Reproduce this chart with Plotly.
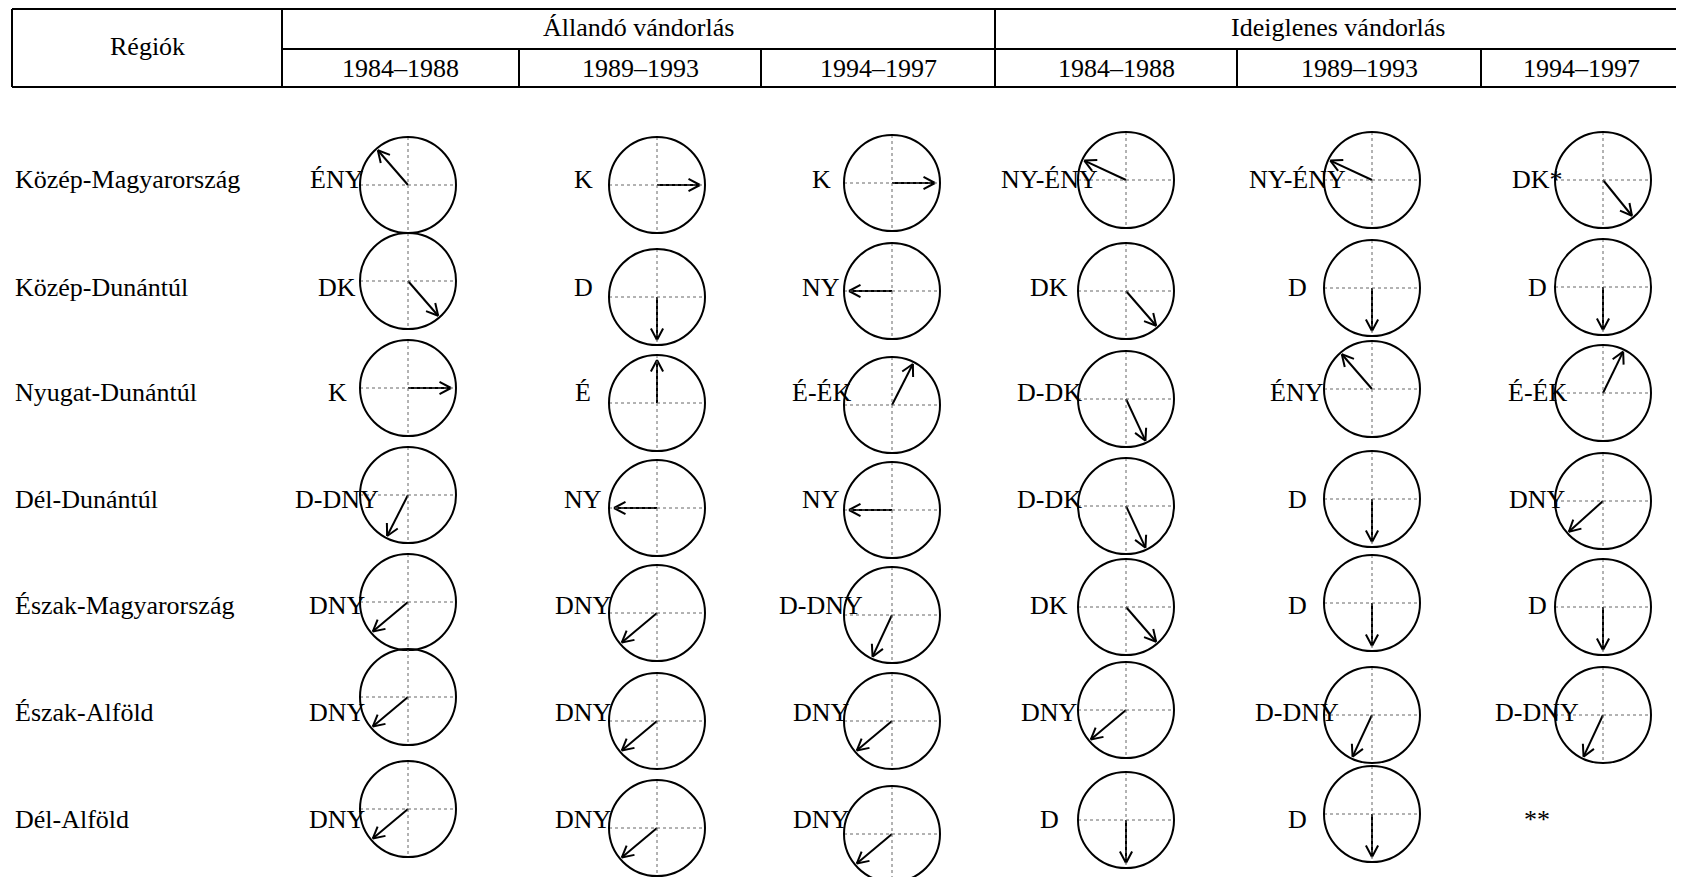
import math
import plotly.graph_objects as go

# table contents
REGIONS = ["Közép-Magyarország", "Közép-Dunántúl", "Nyugat-Dunántúl", "Dél-Dunántúl",
           "Észak-Magyarország", "Észak-Alföld", "Dél-Alföld"]
GROUPS = ["Állandó vándorlás", "Ideiglenes vándorlás"]
PERIODS = ["1984–1988", "1989–1993", "1994–1997"]
HEADER_REGION = "Régiók"

# direction label and arrow angle (degrees, counter-clockwise from east) per region
ALLANDO_8488_DIR = ["ÉNY", "DK", "K", "D-DNY", "DNY", "DNY", "DNY"]
ALLANDO_8488_DEG = [131, -49, 0, 243, 220, 220, 220]
ALLANDO_8993_DIR = ["K", "D", "É", "NY", "DNY", "DNY", "DNY"]
ALLANDO_8993_DEG = [0, 270, 90, 180, 220, 220, 220]
ALLANDO_9497_DIR = ["K", "NY", "É-ÉK", "NY", "D-DNY", "DNY", "DNY"]
ALLANDO_9497_DEG = [0, 180, 63, 180, 245, 220, 220]
IDEIGL_8488_DIR = ["NY-ÉNY", "DK", "D-DK", "D-DK", "DK", "DNY", "D"]
IDEIGL_8488_DEG = [155, -49, -65, -65, -49, 220, 270]
IDEIGL_8993_DIR = ["NY-ÉNY", "D", "ÉNY", "D", "D", "D-DNY", "D"]
IDEIGL_8993_DEG = [155, 270, 131, 270, 270, 245, 270]
IDEIGL_9497_DIR = ["DK*", "D", "É-ÉK", "DNY", "D", "D-DNY", "**"]
IDEIGL_9497_DEG = [-51, 270, 64, 222, 270, 245, None]

COLUMNS = [
    (ALLANDO_8488_DIR, ALLANDO_8488_DEG), (ALLANDO_8993_DIR, ALLANDO_8993_DEG),
    (ALLANDO_9497_DIR, ALLANDO_9497_DEG), (IDEIGL_8488_DIR, IDEIGL_8488_DEG),
    (IDEIGL_8993_DIR, IDEIGL_8993_DEG), (IDEIGL_9497_DIR, IDEIGL_9497_DEG),
]

# page layout (pixels); the page body adds an 8px margin, so axes start at 8
W, H = 1684, 877
OFF = 8
FONT = dict(family="Liberation Serif, Times New Roman, serif", size=26, color="black")
COL_X = [408, 657, 892, 1126, 1372, 1603]
LABEL_X = [337, 583, 821, 1049, 1297, 1537]
ROW_BASE = [188, 296, 401, 508, 614, 721, 828]
CIRCLE_Y = [
    [185, 281, 388, 495, 602, 697, 809],
    [185, 297, 403, 508, 613, 721, 828],
    [183, 291, 405, 510, 615, 721, 834],
    [180, 291, 399, 506, 607, 710, 820],
    [180, 288, 389, 499, 603, 715, 814],
    [180, 287, 393, 501, 607, 715, 815],
]
R = 48
HEAD_LEN, HEAD_ANG = 13, 28
V_LINES = [12, 282, 519, 761, 995, 1237, 1481, 1681]
TOP, MID, BOT = 9, 49, 87
DY = 0.3375 * FONT["size"]  # baseline -> middle of text box

shapes = []
annotations = []

def line(x0, y0, x1, y1, width=2, color="black", dash="solid"):
    shapes.append(dict(type="line", xref="x", yref="y", x0=x0, y0=y0, x1=x1, y1=y1,
                       line=dict(color=color, width=width, dash=dash)))

def text(x, y, s, xanchor="center"):
    annotations.append(dict(x=x, y=y, xref="x", yref="y", text=s, showarrow=False,
                            xanchor=xanchor, yanchor="middle", font=FONT))

# header table
line(V_LINES[0], TOP, V_LINES[-1], TOP)
line(V_LINES[1], MID, V_LINES[-1], MID)
line(V_LINES[0], BOT, V_LINES[-1], BOT)
for i, x in enumerate(V_LINES):
    full = i in (0, 1, 4, 7)
    line(x, TOP if full else MID, x, BOT)
text((V_LINES[0] + V_LINES[1]) / 2, 55 - DY, HEADER_REGION)
text((V_LINES[1] + V_LINES[4]) / 2, 36.7 - DY, GROUPS[0])
text((V_LINES[4] + V_LINES[7]) / 2, 36.7 - DY, GROUPS[1])
for k in range(6):
    text((V_LINES[k + 1] + V_LINES[k + 2]) / 2, 77 - DY, PERIODS[k % 3])

for i, name in enumerate(REGIONS):
    text(13, ROW_BASE[i] - DY, name, xanchor="left")

ax, ay = [], []
for c, (dirs, degs) in enumerate(COLUMNS):
    cx = COL_X[c]
    for i, (lab, deg) in enumerate(zip(dirs, degs)):
        text(LABEL_X[c], ROW_BASE[i] - DY, lab)
        if deg is None:
            continue
        cy = CIRCLE_Y[c][i]
        # compass cross (dotted) and circle
        line(cx - R, cy, cx + R, cy, width=1, color="#666666", dash="dot")
        line(cx, cy - R, cx, cy + R, width=1, color="#666666", dash="dot")
        shapes.append(dict(type="circle", xref="x", yref="y", x0=cx - R, x1=cx + R,
                           y0=cy - R, y1=cy + R, line=dict(color="black", width=2)))
        # arrow
        L = 43 if deg % 90 == 0 else 46
        t = math.radians(deg)
        tx, ty = cx + L * math.cos(t), cy - L * math.sin(t)
        ax += [cx, tx, None]
        ay += [cy, ty, None]
        for s in (1, -1):
            b = t + math.pi + s * math.radians(HEAD_ANG)
            ax += [tx + HEAD_LEN * math.cos(b), tx, None]
            ay += [ty - HEAD_LEN * math.sin(b), ty, None]

fig = go.Figure(go.Scatter(x=ax, y=ay, mode="lines", line=dict(color="black", width=2),
                           hoverinfo="skip", showlegend=False))
fig.update_layout(
    width=W, height=H, margin=dict(l=0, r=0, t=0, b=0),
    paper_bgcolor="white", plot_bgcolor="white",
    shapes=shapes, annotations=annotations,
)
fig.update_xaxes(range=[OFF, W + OFF], visible=False, fixedrange=True)
fig.update_yaxes(range=[H + OFF, OFF], visible=False, fixedrange=True)
fig.write_html("out.html")
